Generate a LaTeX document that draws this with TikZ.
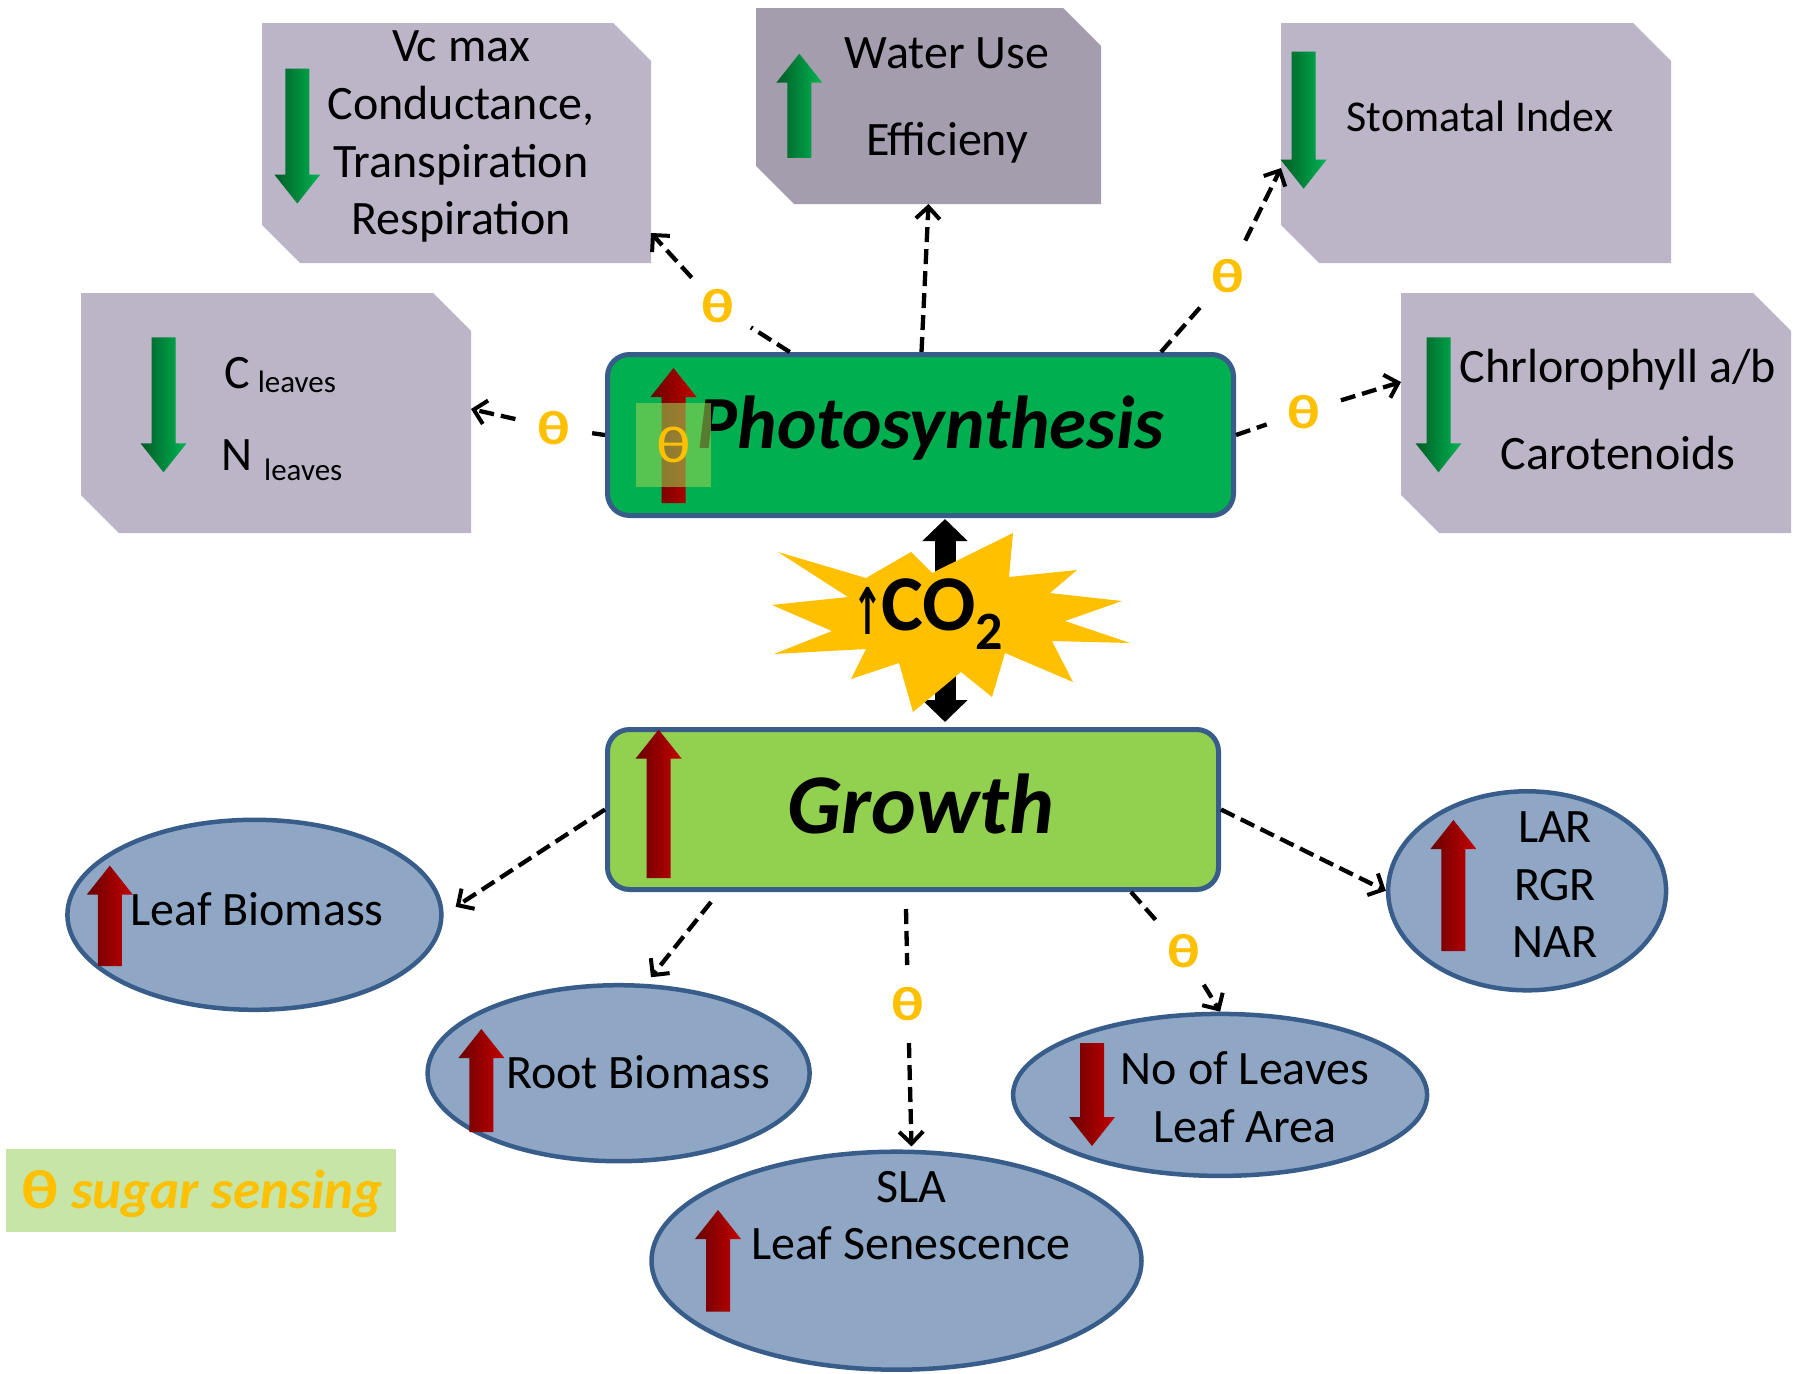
\documentclass[tikz,border=0pt]{standalone}
\usepackage{fontspec}
\setmainfont{Carlito}
\newfontfamily\arrowfont{DejaVu Sans}
\usetikzlibrary{arrows.meta,shapes.geometric}

\definecolor{boxgray}{RGB}{188,180,199}
\definecolor{boxdark}{RGB}{164,157,173}
\definecolor{photogreen}{RGB}{0,176,80}
\definecolor{growgreen}{RGB}{146,208,80}
\definecolor{rimblue}{RGB}{56,93,138}
\definecolor{ellfill}{RGB}{143,167,197}
\definecolor{sugar}{RGB}{255,192,0}
\definecolor{legendfill}{RGB}{198,229,166}
\definecolor{arrdarkred}{RGB}{105,0,0}
\definecolor{arrred}{RGB}{196,0,0}
\definecolor{arrdarkgreen}{RGB}{0,92,38}
\definecolor{arrgreen}{RGB}{0,180,82}

% the sugar-sensing theta is set a little wider than the font draws it
\newcommand\wtheta{\scalebox{1.25}[1]{θ}}

\tikzset{
  gbox/.style={rectangle, inner sep=0pt, outer sep=0pt},
  hub/.style={rectangle, rounded corners=22pt, draw=rimblue, line width=5pt, inner sep=0pt},
  oval/.style={ellipse, draw=rimblue, line width=4.5pt, fill=ellfill, inner sep=0pt},
  txt/.style={anchor=base, inner sep=0pt, font=\fontsize{48}{56}\selectfont},
  sugarmark/.style={circle, inner sep=11pt, text=sugar, font=\fontsize{48}{48}\selectfont\bfseries},
  conn/.style={line width=4.3pt, dash pattern=on 15pt off 7pt,
    -{Straight Barb[length=12pt,width=24pt,line width=4pt]}},
  dbl/.style={line width=21pt,
    {Triangle[length=22pt,width=44pt]}-{Triangle[length=22pt,width=44pt]}},
}

% box with snipped top-right and bottom-left corners: name, fill, x1, y1, x2, y2
\newcommand\snipbox[6]{%
  \fill[#2] (#3,#4) -- ({#5-38},#4) -- (#5,{#4+38}) -- (#5,#6)
    -- ({#3+38},#6) -- (#3,{#6-38}) -- cycle;
  \node[gbox, minimum width={#5-#3}, minimum height={#6-#4}] (#1)
    at ({(#3+#5)/2},{(#4+#6)/2}) {};}

% shaded block arrows: x, tip y, tail y, dark colour, light colour
\newcommand\blockup[5]{%
  \shade[left color=#4, right color=#5]
    ({#1-12},#3) -- ({#1-12},{#2+29}) -- ({#1-23},{#2+29}) -- (#1,#2)
    -- ({#1+23},{#2+29}) -- ({#1+12},{#2+29}) -- ({#1+12},#3) -- cycle;}
\newcommand\blockdown[5]{%
  \shade[left color=#4, right color=#5]
    ({#1-12},#3) -- ({#1-12},{#2-29}) -- ({#1-23},{#2-29}) -- (#1,#2)
    -- ({#1+23},{#2-29}) -- ({#1+12},{#2-29}) -- ({#1+12},#3) -- cycle;}

\begin{document}
\begin{tikzpicture}[x=1pt,y=-1pt]
\useasboundingbox (0,0) rectangle (1793,1373);
\fill[white] (0,0) rectangle (1793,1373);

% ---------- upper boxes ----------
\snipbox{vc}{boxgray}{262}{23}{651}{263}
\snipbox{wue}{boxdark}{756}{8}{1101}{204}
\snipbox{stom}{boxgray}{1281}{23}{1671}{263}
\snipbox{cn}{boxgray}{81}{293}{471}{533}
\snipbox{chl}{boxgray}{1401}{293}{1791}{533}

\blockdown{297.3}{203.5}{68.6}{arrdarkgreen}{arrgreen}
\blockup{799.3}{53.7}{157.8}{arrdarkgreen}{arrgreen}
\blockdown{1303.6}{188.7}{51.5}{arrdarkgreen}{arrgreen}
\blockdown{163.5}{472.3}{337.3}{arrdarkgreen}{arrgreen}
\blockdown{1438.5}{472.3}{337.3}{arrdarkgreen}{arrgreen}

\node[txt] (vc-1) at (461,61) {Vc max};
\node[txt] (vc-2) at (461,119) {Conductance,};
\node[txt] (vc-3) at (461,177) {Transpiration};
\node[txt] (vc-4) at (461,234) {Respiration};
\node[txt] (wue-1) at (947,68) {Water Use};
\node[txt] (wue-2) at (947,155) {Efficieny};
\node[txt, font=\fontsize{44}{52}\selectfont] (stom-1) at (1480,131) {Stomatal Index};
\node[txt, anchor=base west] (cn-1) at (224,388)
  {C\hspace{8pt}\raisebox{-4pt}{\fontsize{31}{31}\selectfont leaves}};
\node[txt, anchor=base west] (cn-2) at (221,470)
  {N\hspace{12pt}\raisebox{-10pt}{\fontsize{31}{31}\selectfont leaves}};
\node[txt] (chl-1) at (1618,382) {Chrlorophyll a/b};
\node[txt] (chl-2) at (1618,469) {Carotenoids};

% ---------- central hubs ----------
\draw[dbl] (945,519) -- (945,722);
\fill[sugar] (778,552) -- (866,578) -- (911,552) -- (932,573) -- (1013,533)
  -- (1009,577) -- (1077,570) -- (1050,593) -- (1122,601) -- (1065,621)
  -- (1130,643) -- (1052,641) -- (1073,682) -- (1005,653) -- (992,697)
  -- (961,672) -- (913,712) -- (899,663) -- (851,679) -- (866,649)
  -- (774,654) -- (832,631) -- (772,605) -- (848,597) -- cycle;
\node[anchor=base west, inner sep=0pt, font=\fontsize{79}{79}\selectfont\bfseries]
  (co2) at (852,630)
  {\raisebox{-4pt}{\arrowfont\fontsize{46}{46}\selectfont\scalebox{0.8}[1.4]{↑}}\kern-2pt
   CO\raisebox{-19pt}{\fontsize{54}{54}\selectfont 2}};

\node[hub, fill=photogreen, minimum width=626pt, minimum height=161pt]
  (photo) at (920.5,435) {};
\node[hub, fill=growgreen, minimum width=611pt, minimum height=160pt]
  (growth) at (913,809.5) {};

\blockup{673.5}{368}{503}{arrdarkred}{arrred}
\node[anchor=base, inner sep=0pt, font=\fontsize{75}{75}\selectfont\bfseries\itshape]
  (photo-t) at (931,448) {Photosynthesis};
\node[rectangle, inner sep=0pt, minimum width=75pt, minimum height=84pt,
  fill=growgreen, fill opacity=0.6, text opacity=1, text=sugar,
  font=\fontsize{52}{52}\selectfont] (photo-s) at (673.5,445) {\wtheta};

\blockup{658.6}{729.6}{878}{arrdarkred}{arrred}
\node[anchor=base, inner sep=0pt, font=\fontsize{85}{85}\selectfont\bfseries\itshape]
  (growth-t) at (921,833) {Growth};

% ---------- lower ovals ----------
\node[oval, minimum width=374pt, minimum height=190pt] (leaf) at (254.4,914.8) {};
\node[oval, minimum width=382pt, minimum height=176pt] (root) at (618.6,1073.2) {};
\node[oval, minimum width=490pt, minimum height=218pt] (sla) at (896.5,1260.7) {};
\node[oval, minimum width=414pt, minimum height=162pt] (nleaf) at (1220.1,1094.9) {};
\node[oval, minimum width=278pt, minimum height=199pt] (lar) at (1527.1,890.8) {};

\blockup{109.8}{865.6}{966}{arrdarkred}{arrred}
\blockup{481.4}{1029}{1132}{arrdarkred}{arrred}
\blockup{718}{1210}{1311.6}{arrdarkred}{arrred}
\blockdown{1092}{1146}{1043}{arrdarkred}{arrred}
\blockup{1453.4}{820}{951}{arrdarkred}{arrred}

\node[txt] (leaf-1) at (257,925) {Leaf Biomass};
\node[txt] (root-1) at (638,1088) {Root Biomass};
\node[txt] (sla-1) at (911,1202) {SLA};
\node[txt] (sla-2) at (911,1259) {Leaf Senescence};
\node[txt] (nleaf-1) at (1245,1084) {No of Leaves};
\node[txt] (nleaf-2) at (1245,1142) {Leaf Area};
\node[txt] (lar-1) at (1555,842) {LAR};
\node[txt] (lar-2) at (1555,900) {RGR};
\node[txt] (lar-3) at (1555,957) {NAR};

% ---------- legend ----------
\node[rectangle, inner sep=0pt, fill=legendfill, minimum width=390pt,
  minimum height=83pt] (legend) at (200.7,1190.3) {};
\node[anchor=base, inner sep=0pt, text=sugar, font=\fontsize{55}{55}\selectfont\bfseries]
  (legend-t) at (202,1208) {\wtheta{} \itshape sugar sensing};

% ---------- sugar sensing marks ----------
\node[sugarmark] (t-vc) at (718,306.5) {\wtheta};
\node[sugarmark] (t-st) at (1228,275.6) {\wtheta};
\node[sugarmark] (t-cn) at (553.5,427.7) {\wtheta};
\node[sugarmark] (t-chl) at (1303.6,411.7) {\wtheta};
\node[sugarmark] (t-sla) at (908,1004) {\wtheta};
\node[sugarmark] (t-nl) at (1183.5,951.4) {\wtheta};

% ---------- connectors ----------
\draw[conn] (photo) -- (t-vc) -- ([yshift=30pt]vc.south east);
\draw[conn] ([xshift=1pt]photo.north) -- (wue.south);
\draw[conn] ([xshift=-75pt]photo.north east) -- (t-st) -- ([yshift=-25pt]stom.west);
\draw[conn] (photo.west) -- (t-cn) -- ([yshift=4pt]cn.east);
\draw[conn] (photo.east) -- (t-chl) -- ([yshift=31pt]chl.west);

\draw[conn] (growth.west) -- ([xshift=12pt,yshift=8pt]leaf.east);
\draw[conn] ([xshift=106pt,yshift=-10pt]growth.south west) -- ([yshift=7pt]root.70);
\draw[conn] ([xshift=-7pt,yshift=-17pt]growth.south) -- (t-sla)
  -- ([xshift=15pt,yshift=3pt]sla.north);
\draw[conn] ([xshift=-90pt]growth.south east) -- (t-nl) -- (nleaf.north);
\draw[conn] (growth.east) -- (lar.west);
\end{tikzpicture}
\end{document}
